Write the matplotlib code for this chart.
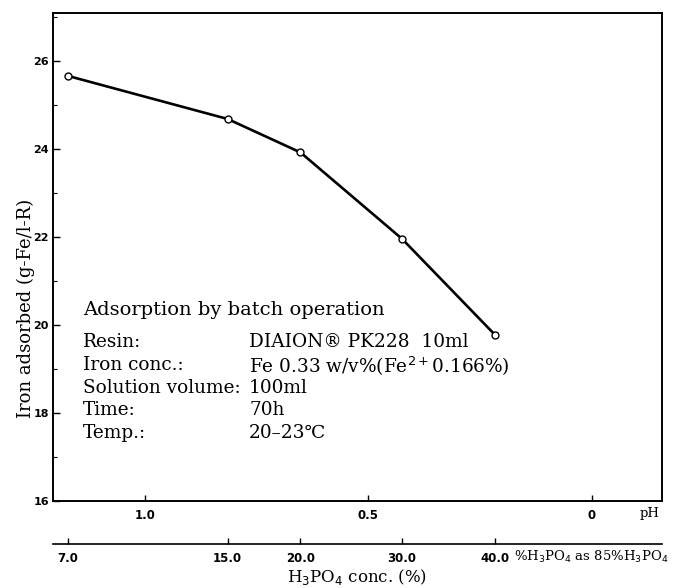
import matplotlib.pyplot as plt
from matplotlib.ticker import MultipleLocator

# Iron adsorption by batch operation vs pH / H3PO4 concentration
ph = [1.173, 0.815, 0.652, 0.425, 0.216]
iron_adsorbed = [25.66, 24.68, 23.92, 21.96, 19.77]
h3po4_conc = ['7.0', '15.0', '20.0', '30.0', '40.0']

ph_ticks = [1.0, 0.5, 0.0]
ph_labels = ['1.0', '0.5', '0']
y_ticks = [16, 18, 20, 22, 24, 26]

info_title = 'Adsorption by batch operation'
info_keys = ['Resin:', 'Iron conc.:', 'Solution volume:', 'Time:', 'Temp.:']
info_vals = ['DIAION\u00ae PK228  10ml', 'Fe 0.33 w/v%(Fe$^{2+}$0.166%)',
             '100ml', '70h', '20\u201323\u2103']

serif = ['DejaVu Serif']
xfont = dict(family='DejaVu Sans', weight='bold', size=8.5)
yfont = dict(family='DejaVu Sans', weight='bold', size=8)

fig = plt.figure(figsize=(6.95, 5.88), dpi=100)
ax = fig.add_axes([0.0763, 0.148, 0.876, 0.830])

ax.plot(ph, iron_adsorbed, color='black', lw=1.9, marker='o', ms=5,
        mfc='white', mec='black', mew=1.0, zorder=3)

ax.set_xlim(1.206, -0.157)
ax.set_ylim(16, 27.09)

for s in ax.spines.values():
    s.set_linewidth(1.4)

ax.set_yticks(y_ticks)
ax.set_yticklabels([str(v) for v in y_ticks], fontdict=yfont)
ax.yaxis.set_minor_locator(MultipleLocator(1))
ax.tick_params(axis='y', which='major', direction='in', length=5, width=1, pad=3)
ax.tick_params(axis='y', which='minor', direction='in', length=3, width=0.8)

ax.set_xticks(ph_ticks)
ax.set_xticklabels(ph_labels, fontdict=xfont)
ax.tick_params(axis='x', which='major', direction='in', length=4, width=1, pad=6)
fig.text(650 / 695, 1 - 513 / 588, 'pH', ha='center', va='center',
         fontsize=9.5, family=serif)

ax.set_ylabel('Iron adsorbed (g-Fe/l-R)', fontsize=13, family=serif)
ax.yaxis.set_label_coords(-0.03, 0.395)

# second axis: H3PO4 concentration
ax2 = ax.twiny()
ax2.set_xlim(ax.get_xlim())
for k in ['top', 'left', 'right']:
    ax2.spines[k].set_visible(False)
ax2.spines['bottom'].set_visible(True)
ax2.spines['bottom'].set_position(('outward', 31))
ax2.spines['bottom'].set_linewidth(1.2)
ax2.xaxis.set_ticks_position('bottom')
ax2.xaxis.set_label_position('bottom')
ax2.set_xticks(ph)
ax2.set_xticklabels(h3po4_conc, fontdict=xfont)
ax2.tick_params(axis='x', direction='in', length=4, width=1, pad=6)
ax2.set_xlabel('H$_3$PO$_4$ conc. (%)', fontsize=12, family=serif, labelpad=1)
fig.text(514 / 695, 1 - 557 / 588, '%H$_3$PO$_4$ as 85%H$_3$PO$_4$',
         ha='left', va='center', fontsize=9.5, family='DejaVu Serif')

# condition box
ax.text(0.049, 0.391, info_title, transform=ax.transAxes, ha='left', va='center',
        fontsize=14, family=serif)
for i, (k, v) in enumerate(zip(info_keys, info_vals)):
    yy = 0.325 - i * 0.0465
    ax.text(0.049, yy, k, transform=ax.transAxes, ha='left', va='center',
            fontsize=13.3, family=serif)
    ax.text(0.322, yy, v, transform=ax.transAxes, ha='left', va='center',
            fontsize=13.3, family=serif)

plt.savefig('out.png', dpi=100)
